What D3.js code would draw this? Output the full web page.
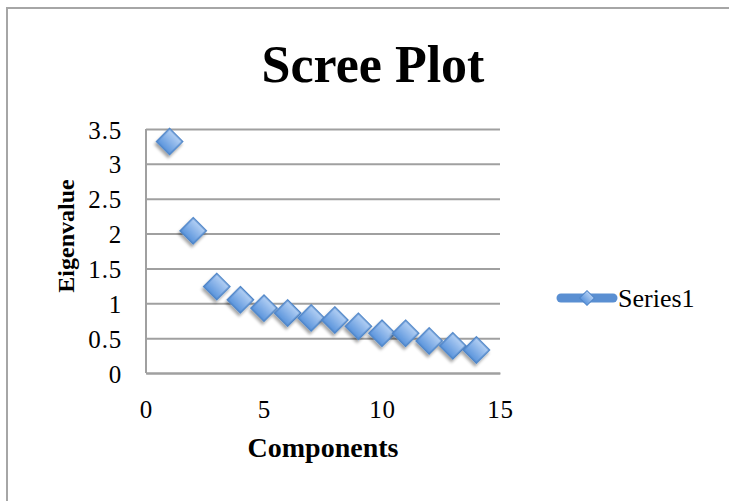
<!DOCTYPE html>
<html><head><meta charset="utf-8">
<script src="https://cdn.jsdelivr.net/npm/d3@7"></script>
<style>
html,body{margin:0;padding:0;background:#fff;}
svg{display:block;}
text{font-family:"Liberation Serif","Times New Roman",serif;fill:#000;}
</style></head>
<body>
<script>
const components = [1,2,3,4,5,6,7,8,9,10,11,12,13,14];
const eigenvalues = [3.32,2.04,1.24,1.05,0.93,0.86,0.79,0.76,0.67,0.57,0.57,0.46,0.39,0.33];
const xTicks = [0,5,10,15];
const yTicks = [0,0.5,1,1.5,2,2.5,3,3.5];
const seriesName = "Series1";
const chartTitle = "Scree Plot";
const xTitle = "Components";
const yTitle = "Eigenvalue";

const W = 729, H = 501;
const svg = d3.select("body").append("svg").attr("width", W).attr("height", H);

const defs = svg.append("defs");
const grad = defs.append("linearGradient").attr("id","mk").attr("x1","0").attr("y1","0").attr("x2","0").attr("y2","1");
grad.append("stop").attr("offset","0%").attr("stop-color","#b4d0f4");
grad.append("stop").attr("offset","100%").attr("stop-color","#5a94dc");
const f = defs.append("filter").attr("id","sh").attr("x","-50%").attr("y","-50%").attr("width","200%").attr("height","200%");
f.append("feDropShadow").attr("dx",1).attr("dy",3).attr("stdDeviation",1.6).attr("flood-color","#000").attr("flood-opacity",0.35);

// outer frame
svg.append("path").attr("d", `M7,${H+5} L7,8 L${W+5},8`).attr("fill","none").attr("stroke","#a6a6a6").attr("stroke-width",2);

const m = {left:146, right:500, top:129, bottom:373};
const x = d3.scaleLinear().domain([0,15]).range([m.left, m.right]);
const y = d3.scaleLinear().domain([0,3.5]).range([m.bottom, m.top]);

// gridlines
const yAxis = d3.axisLeft(y).tickValues(yTicks).tickSize(-(m.right-m.left)).tickPadding(24).tickFormat(d3.format("~g"));
const gy = svg.append("g").attr("transform",`translate(${m.left},0)`).call(yAxis);
gy.select(".domain").remove();
gy.selectAll(".tick line").attr("stroke","#a0a0a0").attr("stroke-width",2);
gy.selectAll(".tick text").attr("font-size",25).attr("dy","0.36em").attr("x",-24).attr("letter-spacing",0.8);

// axes lines
svg.append("line").attr("x1",m.left).attr("x2",m.left).attr("y1",m.top).attr("y2",m.bottom).attr("stroke","#a0a0a0").attr("stroke-width",2);
const xAxis = d3.axisBottom(x).tickValues(xTicks).tickSize(0).tickPadding(27);
const gx = svg.append("g").attr("transform",`translate(0,${m.bottom})`).call(xAxis);
gx.select(".domain").attr("stroke","#a0a0a0").attr("stroke-width",2);
gx.selectAll(".tick text").attr("font-size",25).attr("letter-spacing",0.8);

// markers
const diamond = d3.symbol().type(d3.symbolSquare).size(340);
svg.append("g").selectAll("path").data(components.map((c,i)=>({c, v:eigenvalues[i]})))
  .enter().append("path")
  .attr("d", diamond)
  .attr("transform", d=>`translate(${x(d.c)},${y(d.v)}) rotate(45)`)
  .attr("fill","url(#mk)").attr("stroke","#4f85c8").attr("stroke-width",1.5)
  .attr("filter","url(#sh)");

// title
svg.append("text").attr("x",373).attr("y",82).attr("text-anchor","middle")
  .attr("font-size",52).attr("font-weight","bold").text(chartTitle);
svg.append("text").attr("x",(m.left+m.right)/2).attr("y",457).attr("text-anchor","middle")
  .attr("font-size",28).attr("font-weight","bold").text(xTitle);
svg.append("text").attr("transform",`translate(74,236) rotate(-90)`).attr("text-anchor","middle")
  .attr("font-size",24).attr("font-weight","bold").text(yTitle);

// legend
const lg = svg.append("g");
lg.append("line").attr("x1",561).attr("x2",613).attr("y1",298).attr("y2",298)
  .attr("stroke","#5a8fd2").attr("stroke-width",9).attr("stroke-linecap","round");
lg.append("path").attr("d", d3.symbol().type(d3.symbolSquare).size(110))
  .attr("transform","translate(587,298) rotate(45)").attr("fill","url(#mk)").attr("stroke","#4f85c8").attr("stroke-width",1);
lg.append("text").attr("x",618).attr("y",298).attr("dy","0.35em").attr("font-size",26).text(seriesName);
</script>
</body></html>
